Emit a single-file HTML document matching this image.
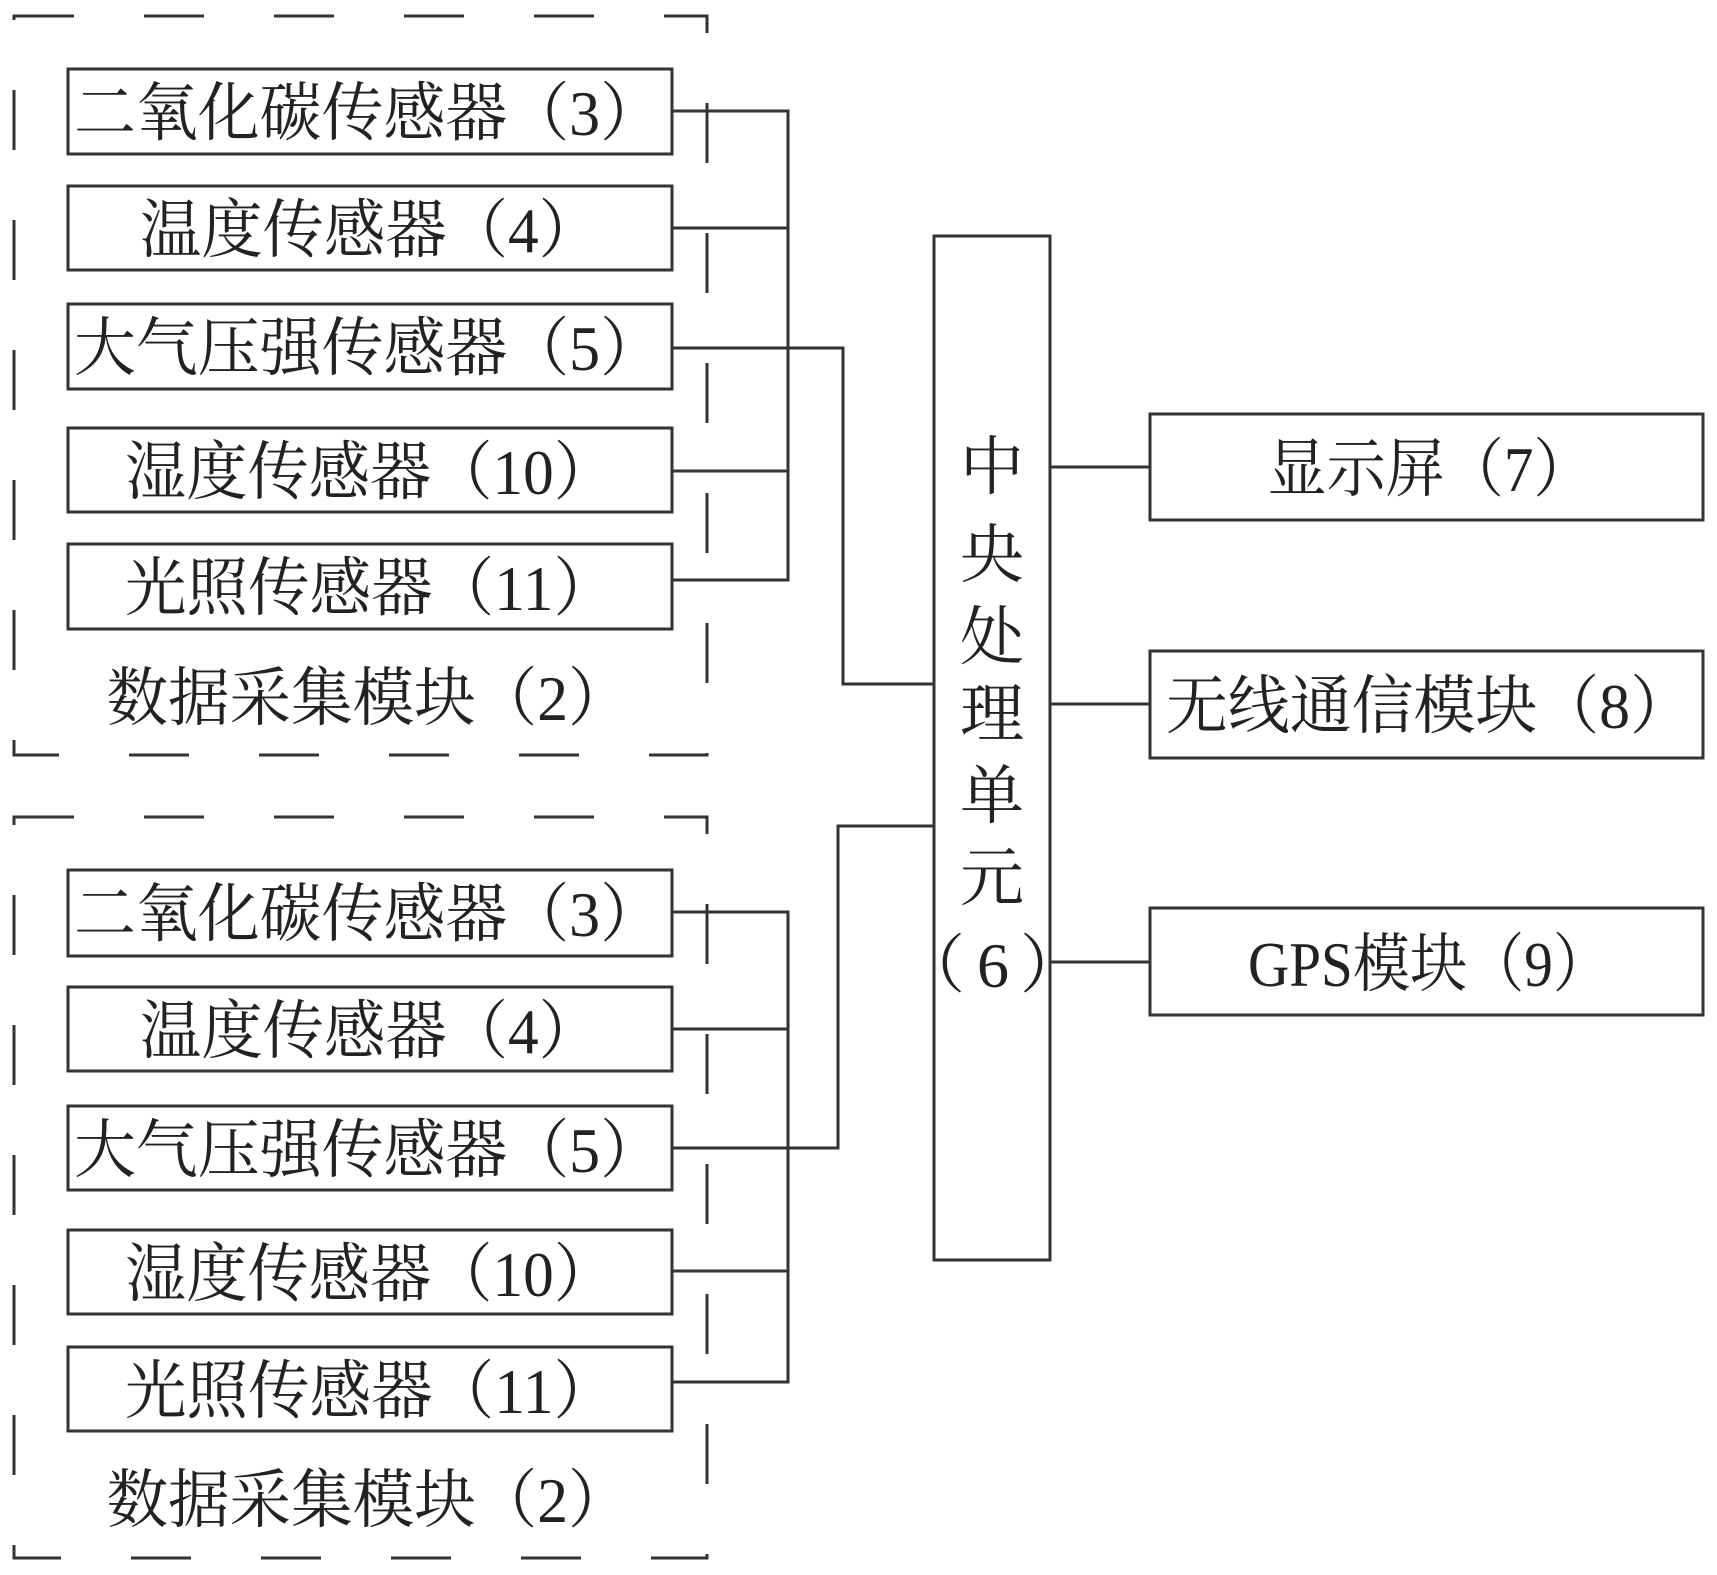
<!DOCTYPE html>
<html><head><meta charset="utf-8"><style>
html,body{margin:0;padding:0;background:#fff;}
svg{display:block;}
text{font-family:"Liberation Serif","Noto Serif CJK SC",serif;fill:#222;font-size:64px;}
</style></head><body>
<svg width="1717" height="1575" viewBox="0 0 1717 1575" xmlns="http://www.w3.org/2000/svg">
<g fill="none" stroke="#333" stroke-width="3">
<rect x="14" y="16" width="693" height="739" stroke-dasharray="60 70"/>
<rect x="14" y="817" width="693" height="741" stroke-dasharray="60 70"/>
<rect x="68" y="69" width="604" height="85"/>
<rect x="68" y="186" width="604" height="84"/>
<rect x="68" y="304" width="604" height="85"/>
<rect x="68" y="428" width="604" height="84"/>
<rect x="68" y="544" width="604" height="85"/>
<rect x="68" y="870" width="604" height="86"/>
<rect x="68" y="987" width="604" height="84"/>
<rect x="68" y="1106" width="604" height="84"/>
<rect x="68" y="1230" width="604" height="84"/>
<rect x="68" y="1347" width="604" height="84"/>
<rect x="934" y="236" width="116" height="1024"/>
<rect x="1150" y="414" width="553" height="106"/>
<rect x="1150" y="651" width="553" height="107"/>
<rect x="1150" y="908" width="553" height="107"/>
<path d="M672 111H788V580H672 M672 228H788 M672 471H788 M672 348H843V684H934"/>
<path d="M672 912H788V1382H672 M672 1029H788 M672 1271H788 M672 1148H838V826H934"/>
<path d="M1050 467H1150 M1050 704H1150 M1050 962H1150"/>
</g>
<g text-anchor="middle">
<text x="368" y="135" textLength="588" lengthAdjust="spacingAndGlyphs">二氧化碳传感器（3）</text>
<text x="370" y="252" textLength="460" lengthAdjust="spacingAndGlyphs">温度传感器（4）</text>
<text x="368" y="370" textLength="588" lengthAdjust="spacingAndGlyphs">大气压强传感器（5）</text>
<text x="370" y="494" textLength="490" lengthAdjust="spacingAndGlyphs">湿度传感器（10）</text>
<text x="370" y="610" textLength="490" lengthAdjust="spacingAndGlyphs">光照传感器（11）</text>
<text x="368" y="720" textLength="523" lengthAdjust="spacingAndGlyphs">数据采集模块（2）</text>
<text x="368" y="936" textLength="588" lengthAdjust="spacingAndGlyphs">二氧化碳传感器（3）</text>
<text x="370" y="1053" textLength="460" lengthAdjust="spacingAndGlyphs">温度传感器（4）</text>
<text x="368" y="1172" textLength="588" lengthAdjust="spacingAndGlyphs">大气压强传感器（5）</text>
<text x="370" y="1296" textLength="490" lengthAdjust="spacingAndGlyphs">湿度传感器（10）</text>
<text x="370" y="1413" textLength="490" lengthAdjust="spacingAndGlyphs">光照传感器（11）</text>
<text x="368" y="1522" textLength="523" lengthAdjust="spacingAndGlyphs">数据采集模块（2）</text>
<text x="992" y="489">中</text>
<text x="992" y="577">央</text>
<text x="992" y="659">处</text>
<text x="992" y="736">理</text>
<text x="992" y="818">单</text>
<text x="992" y="900">元</text>
<text x="933" y="987">（</text>
<text x="993" y="987">6</text>
<text x="1052" y="987">）</text>
<text x="1430" y="491" textLength="325" lengthAdjust="spacingAndGlyphs">显示屏（7）</text>
<text x="1429" y="728" textLength="526" lengthAdjust="spacingAndGlyphs">无线通信模块（8）</text>
<text x="1429" y="986" textLength="362" lengthAdjust="spacingAndGlyphs">GPS模块（9）</text>
</g>
</svg>
</body></html>
